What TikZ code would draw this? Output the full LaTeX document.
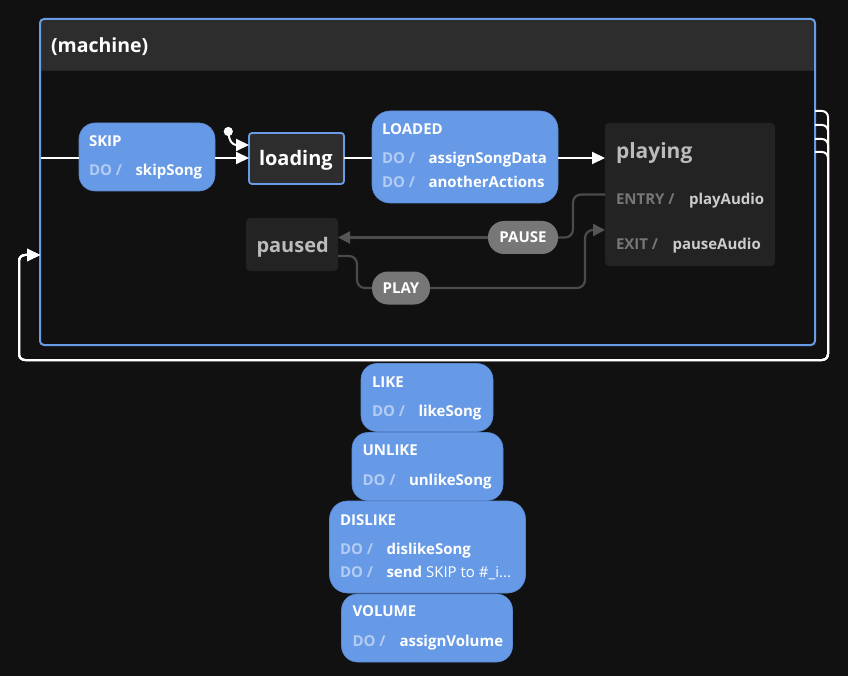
\documentclass[tikz,border=0pt]{standalone}
\usepackage{fontspec}
\setmainfont{Open Sans}
\usetikzlibrary{arrows.meta}
\definecolor{bg}{HTML}{111111}
\definecolor{mblue}{HTML}{6A9BE6}
\definecolor{sblue}{HTML}{6699E6}
\definecolor{sblueline}{HTML}{5A88D0}
\definecolor{hdr}{HTML}{2D2D2D}
\definecolor{hdrline}{HTML}{242424}
\definecolor{dstate}{HTML}{232323}
\definecolor{loadfill}{HTML}{2D2D2D}
\definecolor{dotext}{HTML}{B3CCF3}
\definecolor{edgegray}{HTML}{4B4B4B}
\definecolor{tipgray}{HTML}{555555}
\definecolor{pillgray}{HTML}{777777}
\definecolor{grytitle}{HTML}{BBBBBB}
\definecolor{grykey}{HTML}{777777}
\definecolor{gryact}{HTML}{CCCCCC}
\begin{document}
\begin{tikzpicture}[x=1pt,y=-1pt,
  box/.style={anchor=north west, inner sep=0pt, outer sep=0pt},
  bluestate/.style={box, fill=sblue, draw=sblueline, line width=0.6pt, rounded corners=16pt},
  darkstate/.style={box, fill=dstate, rounded corners=4pt},
  lbl/.style={anchor=base west, inner sep=0pt, outer sep=0pt, font=\bfseries\fontsize{15}{17}\selectfont, text=white},
  dolbl/.style={lbl, text=dotext},
  keylbl/.style={lbl, text=grykey},
  actlbl/.style={lbl, text=gryact},
  biglbl/.style={lbl, font=\bfseries\fontsize{20}{24}\selectfont},
  pill/.style={fill=pillgray, rounded corners=16pt, inner sep=0pt, outer sep=0pt, minimum height=33pt, text=white, font=\bfseries\fontsize{15}{17}\selectfont},
  wline/.style={draw=white, line width=2pt},
  wtip/.style={-{Triangle[length=13pt,width=12pt]}},
  gline/.style={draw=edgegray, line width=2.2pt, rounded corners=8pt},
  gtip/.style={-{Triangle[length=12pt,width=12pt,fill=tipgray,color=tipgray]}}
]
\fill[bg] (0,0) rectangle (848,676);
\useasboundingbox (0,0) rectangle (848,676);

% machine
\fill[hdr, rounded corners=4pt] (40,19) rectangle (815,80);
\fill[bg] (40,71) rectangle (815,345);
\draw[hdrline, line width=1pt] (41,71) -- (814,71);
\node[box, draw=mblue, line width=2pt, rounded corners=4pt, minimum width=775pt, minimum height=326pt] (machine) at (40,19) {};
\node[lbl, font=\bfseries\fontsize{19.5}{22}\selectfont] (title) at (51,53) {(machine)};

% outer self loops
\coordinate (lpin) at (40,255);
\foreach \yy/\nm in {111/a,125/b,139/c,152/d}{
  \coordinate (lp\nm) at (815,\yy);
  \draw[wline, wtip, rounded corners=6pt] (lp\nm) -- (828,\yy) -- (828,360) -- (19,360) -- (19,255) -- (lpin);
}

% SKIP
\node[bluestate, minimum width=136pt, minimum height=68pt] (skip) at (79,123) {};
\node[lbl] (skipT) at (89,147) {SKIP};
\node[dolbl] (skipD) at (89,176) {DO /};
\node[lbl] (skipA) at (135.5,176) {skipSong};

% loading
\node[box, fill=loadfill, draw=mblue, line width=1.8pt, rounded corners=3pt, minimum width=95pt, minimum height=51pt] (loading) at (249,133) {};
\node[biglbl] (loadingT) at (259,166) {loading};

% LOADED
\node[bluestate, minimum width=186pt, minimum height=92pt, rounded corners=18pt] (loaded) at (372,111) {};
\node[lbl] (loadedT) at (382,135) {LOADED};
\node[dolbl] (loadedD1) at (382,164) {DO /};
\node[lbl] (loadedA1) at (428.5,164) {assignSongData};
\node[dolbl] (loadedD2) at (382,187.5) {DO /};
\node[lbl] (loadedA2) at (428.5,187.5) {anotherActions};

% playing
\node[darkstate, minimum width=170pt, minimum height=143pt] (playing) at (605,123) {};
\node[biglbl, text=grytitle, font=\bfseries\fontsize{21}{24}\selectfont] (playingT) at (616,159) {playing};
\node[keylbl] (playingK1) at (616,205) {ENTRY /};
\node[actlbl] (playingA1) at (689,205) {playAudio};
\node[keylbl] (playingK2) at (616,250) {EXIT /};
\node[actlbl] (playingA2) at (672.5,250) {pauseAudio};

% paused
\node[darkstate, minimum width=92pt, minimum height=53pt] (paused) at (246,218) {};
\node[biglbl, text=grytitle] (pausedT) at (256.5,252) {paused};

% initial
\fill[white] (228.3,131.5) circle (4.6pt);
\coordinate (init) at (228.3,131.5);
\coordinate (loadInit) at (249,145);
\draw[wline, wtip] (init) .. controls (229,142) and (233,145) .. (loadInit);

% white transitions
\coordinate (mIn) at (41,158);
\draw[wline] (mIn) -- (skip.west |- mIn);
\coordinate (skipOut) at (215,158);
\draw[wline, wtip] (skipOut) -- (skipOut -| loading.west);
\coordinate (loadOut) at (344,158);
\draw[wline] (loadOut) -- (loadOut -| loaded.west);
\coordinate (loadedOut) at (558,158);
\draw[wline, wtip] (loadedOut) -- (loadedOut -| playing.west);

% PAUSE
\node[pill, minimum width=70pt] (pause) at (523,237.5) {PAUSE};
\coordinate (plOut) at (605,194.5);
\draw[gline] (plOut) -- (573,194.5) -- (573,237.5) -- (pause.east);
\draw[gline, gtip] (pause.west) -- (pause.west -| paused.east);

% PLAY
\node[pill, minimum width=58pt] (play) at (401,288) {PLAY};
\coordinate (paOut) at (338,256);
\draw[gline] (paOut) -- (357,256) -- (357,288) -- (play.west);
\coordinate (plIn) at (605,230);
\draw[gline, gtip] (play.east) -- (585,288) -- (585,230) -- (plIn);

% bottom actions
\node[bluestate, minimum width=132pt, minimum height=68pt] (like) at (361,363.5) {};
\node[lbl] (likeT) at (372,387) {LIKE};
\node[dolbl] (likeD) at (372,416.5) {DO /};
\node[lbl] (likeA) at (418.5,416.5) {likeSong};

\node[bluestate, minimum width=151pt, minimum height=68pt] (unlike) at (352,432.5) {};
\node[lbl] (unlikeT) at (362.5,455.5) {UNLIKE};
\node[dolbl] (unlikeD) at (362.5,485) {DO /};
\node[lbl] (unlikeA) at (409,485) {unlikeSong};

\node[bluestate, minimum width=196pt, minimum height=92pt, rounded corners=18pt] (dislike) at (329.5,501) {};
\node[lbl] (dislikeT) at (340,525) {DISLIKE};
\node[dolbl] (dislikeD1) at (340,554) {DO /};
\node[lbl] (dislikeA1) at (386.5,554) {dislikeSong};
\node[dolbl] (dislikeD2) at (340,577.5) {DO /};
\node[lbl] (dislikeA2) at (386.5,577.5) {send \mdseries SKIP to \#\_i...};

\node[bluestate, minimum width=171pt, minimum height=68pt] (volume) at (341.5,594) {};
\node[lbl] (volumeT) at (352.5,616.5) {VOLUME};
\node[dolbl] (volumeD) at (352.5,646.5) {DO /};
\node[lbl] (volumeA) at (399.5,646.5) {assignVolume};
\end{tikzpicture}
\end{document}
